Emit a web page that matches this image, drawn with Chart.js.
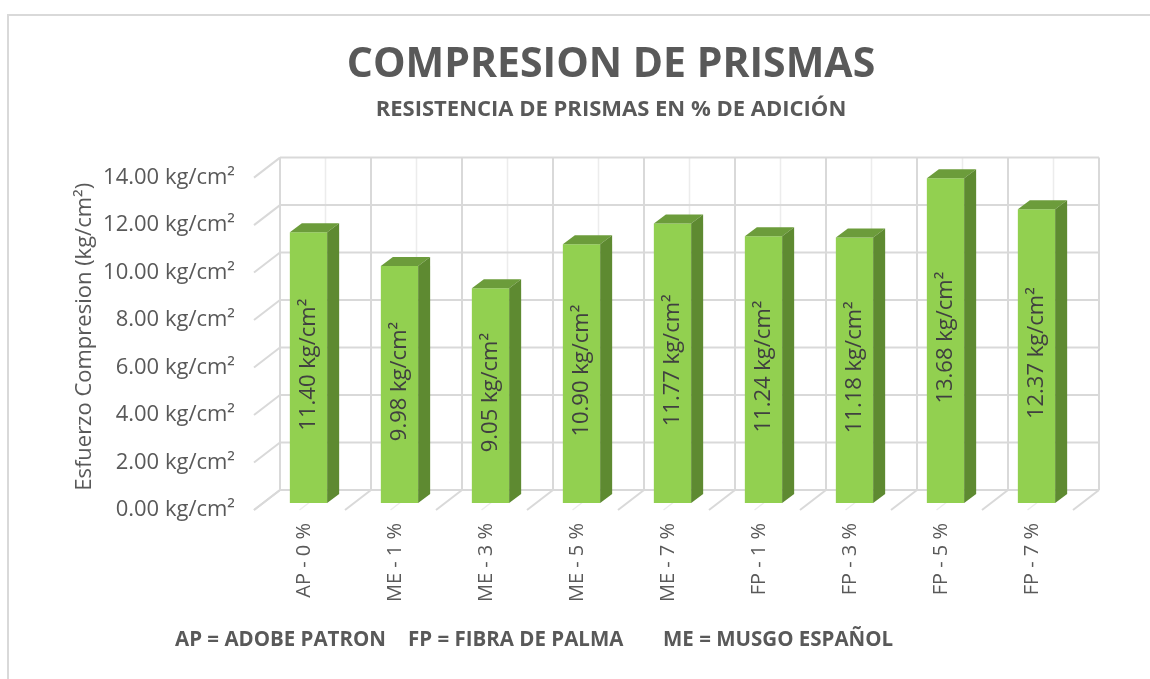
<!DOCTYPE html>
<html>
<head>
<meta charset="utf-8">
<title>Compresión de prismas</title>
<script src="https://cdn.jsdelivr.net/npm/chart.js@4.4.1/dist/chart.umd.min.js"></script>
<style>
  html, body { margin: 0; padding: 0; background: #fff; overflow: hidden; }
  #frame {
    position: absolute; left: 7px; top: 14px;
    width: 1200px; height: 800px;
    border: 2px solid #d9d9d9; box-sizing: border-box;
  }
  #wrap { position: absolute; left: 0; top: 0; width: 1150px; height: 679px; }
</style>
</head>
<body>
<div id="frame"></div>
<div id="wrap"><canvas id="prismChart" width="1150" height="679"></canvas></div>
<script>
// Data
const categories = ['AP - 0 %', 'ME - 1 %', 'ME - 3 %', 'ME - 5 %', 'ME - 7 %', 'FP - 1 %', 'FP - 3 %', 'FP - 5 %', 'FP - 7 %'];
const resistance = [11.40, 9.98, 9.05, 10.90, 11.77, 11.24, 11.18, 13.68, 12.37];
const yTicks = [0, 2, 4, 6, 8, 10, 12, 14];
const keyItems = ['AP = ADOBE PATRON', 'FP = FIBRA DE PALMA', 'ME = MUSGO ESPAÑOL'];

const TEXT = '#595959';
const FONT = "'Open Sans', sans-serif";

// oblique projection offsets (front plane of bars -> back wall / floor edge)
const BACK = { dx: 17, dy: -13 };
const FRONT = { dx: -9, dy: 7 };
const BAR_DEPTH = { dx: 12, dy: -9 };

const FACE_FRONT = '#92D050';
const FACE_TOP = '#6C9C3B';
const FACE_SIDE = '#5E8A31';

function line(ctx, x1, y1, x2, y2) {
  ctx.beginPath();
  ctx.moveTo(x1, y1);
  ctx.lineTo(x2, y2);
  ctx.stroke();
}

// Back wall, side wall and floor grid
const wallsPlugin = {
  id: 'walls',
  beforeDatasetsDraw(chart) {
    const { ctx, chartArea, scales } = chart;
    const y = scales.y;
    const n = categories.length;
    const step = (chartArea.right - chartArea.left) / n;
    const bx0 = chartArea.left + BACK.dx;
    const bx1 = chartArea.right + BACK.dx;
    const yTop = y.getPixelForValue(y.max) + BACK.dy;
    const yBot = y.getPixelForValue(0) + BACK.dy;
    const ddx = FRONT.dx - BACK.dx;
    const ddy = FRONT.dy - BACK.dy;

    ctx.save();
    // minor verticals at category centres (wall + floor)
    ctx.strokeStyle = '#ececec';
    ctx.lineWidth = 1.5;
    for (let i = 0; i < n; i++) {
      const x = bx0 + (i + 0.5) * step;
      line(ctx, x, yTop, x, yBot);
      line(ctx, x, yBot, x + ddx, yBot + ddy);
    }
    // major lines
    ctx.strokeStyle = '#d9d9d9';
    ctx.lineWidth = 2;
    for (let i = 0; i <= n; i++) {
      const x = bx0 + i * step;
      line(ctx, x, yTop, x, yBot);
      line(ctx, x, yBot, x + ddx, yBot + ddy);
    }
    yTicks.forEach(v => {
      const yy = y.getPixelForValue(v) + BACK.dy;
      line(ctx, bx0, yy, bx1, yy);
      line(ctx, bx0, yy, bx0 + ddx, yy + ddy);
    });
    ctx.restore();
  }
};

// Depth faces of the bars and the rotated value labels
const barsPlugin = {
  id: 'bars3d',
  afterDatasetsDraw(chart) {
    const { ctx } = chart;
    const meta = chart.getDatasetMeta(0);
    ctx.save();
    meta.data.forEach((bar, i) => {
      const half = bar.width / 2;
      const l = bar.x - half, r = bar.x + half;
      const top = bar.y, base = bar.base;
      // top face
      ctx.fillStyle = FACE_TOP;
      ctx.beginPath();
      ctx.moveTo(l, top);
      ctx.lineTo(l + BAR_DEPTH.dx, top + BAR_DEPTH.dy);
      ctx.lineTo(r + BAR_DEPTH.dx, top + BAR_DEPTH.dy);
      ctx.lineTo(r, top);
      ctx.closePath();
      ctx.fill();
      // side face
      ctx.fillStyle = FACE_SIDE;
      ctx.beginPath();
      ctx.moveTo(r, top);
      ctx.lineTo(r + BAR_DEPTH.dx, top + BAR_DEPTH.dy);
      ctx.lineTo(r + BAR_DEPTH.dx, base + BAR_DEPTH.dy);
      ctx.lineTo(r, base);
      ctx.closePath();
      ctx.fill();

      // value label
      ctx.save();
      ctx.translate(bar.x, (top + base) / 2 - 3);
      ctx.rotate(-Math.PI / 2);
      ctx.fillStyle = '#404040';
      ctx.font = `22px ${FONT}`;
      ctx.textAlign = 'center';
      ctx.textBaseline = 'middle';
      ctx.fillText(resistance[i].toFixed(2) + ' kg/cm²', 0, 0);
      ctx.restore();
    });
    ctx.restore();
  }
};

// Abbreviation key under the axis
const keyX = [175, 408, 663];
const footerPlugin = {
  id: 'footerKey',
  afterDraw(chart) {
    const { ctx } = chart;
    ctx.save();
    ctx.fillStyle = TEXT;
    ctx.font = `bold 20.5px ${FONT}`;
    ctx.textAlign = 'left';
    ctx.textBaseline = 'middle';
    keyItems.forEach((t, i) => ctx.fillText(t, keyX[i], 640));
    ctx.restore();
  }
};

const ctx = document.getElementById('prismChart').getContext('2d');
window.prismChart = new Chart(ctx, {
  type: 'bar',
  data: {
    labels: categories,
    datasets: [{
      label: 'Esfuerzo Compresion',
      data: resistance,
      backgroundColor: FACE_FRONT,
      borderWidth: 0,
      barPercentage: 0.41,
      categoryPercentage: 1
    }]
  },
  options: {
    responsive: false,
    animation: false,
    layout: { padding: { top: 38, left: 72, right: 0, bottom: 0 } },
    plugins: {
      legend: { display: false },
      tooltip: { enabled: false },
      title: {
        display: true,
        text: 'COMPRESION DE PRISMAS',
        color: TEXT,
        font: { family: FONT, size: 41, weight: 'bold', lineHeight: 1.2 },
        padding: { top: 3, bottom: 6 }
      },
      subtitle: {
        display: true,
        text: 'RESISTENCIA DE PRISMAS EN % DE ADICIÓN',
        color: TEXT,
        font: { family: FONT, size: 22, weight: 'bold', lineHeight: 1.2 },
        padding: { top: 0, bottom: 48 }
      }
    },
    scales: {
      x: {
        grid: { display: false, drawTicks: false },
        border: { display: false },
        ticks: {
          color: TEXT,
          font: { family: FONT, size: 20 },
          maxRotation: 90,
          minRotation: 90,
          padding: 20,
          labelOffset: -4
        },
        afterFit(scale) { scale.height = 176; }
      },
      y: {
        min: 0,
        max: 14,
        grid: { display: false, drawTicks: false },
        border: { display: false },
        ticks: {
          stepSize: 2,
          color: TEXT,
          font: { family: FONT, size: 22 },
          padding: 28,
          labelOffset: 7,
          callback: v => v.toFixed(2) + ' kg/cm²'
        },
        title: {
          display: true,
          text: 'Esfuerzo Compresion (kg/cm²)',
          color: TEXT,
          font: { family: FONT, size: 22 },
          padding: 0
        },
        afterFit(scale) { scale.width = 191; }
      },
      // empty right-hand axis that keeps room for the wall depth
      yRight: {
        position: 'right',
        min: 0,
        max: 14,
        grid: { display: false, drawTicks: false },
        border: { display: false },
        ticks: { display: false },
        afterFit(scale) { scale.width = 68; }
      }
    }
  },
  plugins: [wallsPlugin, barsPlugin, footerPlugin]
});
</script>
</body>
</html>
